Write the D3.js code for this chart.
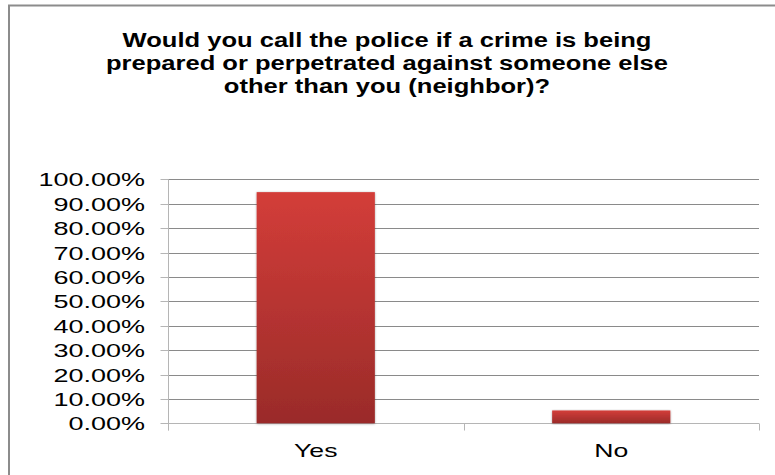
<!DOCTYPE html>
<html>
<head>
<meta charset="utf-8">
<script src="https://cdn.jsdelivr.net/npm/d3@7"></script>
<style>
  html, body { margin: 0; padding: 0; background: #fff; }
  svg { display: block; }
  text { font-family: "Liberation Sans", Arial, sans-serif; fill: #000; }
</style>
</head>
<body>
<svg id="chart" width="775" height="475"></svg>
<script>
// Survey answers and their shares (percent)
const categories = ["Yes", "No"];
const shares = [94.74, 5.26];
const yTicks = [0, 10, 20, 30, 40, 50, 60, 70, 80, 90, 100];
const titleLines = [
  "Would you call the police if a crime is being",
  "prepared or perpetrated against someone else",
  "other than you (neighbor)?"
];

const svg = d3.select("#chart");
const W = 775, H = 475;
const plot = { left: 168, right: 759, top: 179.3, bottom: 423.3 };
// wide lettering used throughout the chart
const titleStretch = 1.31, tickStretch = 1.42, catStretch = 1.4;

// chart frame (top and left edges visible in the window)
svg.append("path")
  .attr("d", `M9,${H + 5}V5.5H${W + 5}`)
  .attr("fill", "none")
  .attr("stroke", "#8c8c8c")
  .attr("stroke-width", 2);

// bar gradient
const defs = svg.append("defs");
const grad = defs.append("linearGradient")
  .attr("id", "barFill").attr("x1", 0).attr("y1", 0).attr("x2", 0).attr("y2", 1);
grad.append("stop").attr("offset", "0%").attr("stop-color", "#d33d39");
grad.append("stop").attr("offset", "100%").attr("stop-color", "#9a2b29");
const shadow = defs.append("filter").attr("id", "barShadow")
  .attr("x", "-10%").attr("y", "-10%").attr("width", "120%").attr("height", "120%");
shadow.append("feDropShadow").attr("dx", 0).attr("dy", 0.5).attr("stdDeviation", 1.2)
  .attr("flood-color", "#000").attr("flood-opacity", 0.35);

// title
svg.append("g").selectAll("g").data(titleLines).join("g")
  .attr("transform", (d, i) => `translate(387,${47 + i * 23}) scale(${titleStretch},1)`)
  .append("text")
  .attr("text-anchor", "middle")
  .attr("font-size", "19.5px")
  .attr("font-weight", "bold")
  .text(d => d);

const x = d3.scaleBand().domain(categories).range([plot.left, plot.right]).paddingInner(0.6).paddingOuter(0.3);
const y = d3.scaleLinear().domain([0, 100]).range([plot.bottom, plot.top]);

// horizontal gridlines
svg.append("g").selectAll("line").data(yTicks.filter(t => t > 0)).join("line")
  .attr("x1", plot.left).attr("x2", plot.right)
  .attr("y1", d => Math.round(y(d)) + 0.5).attr("y2", d => Math.round(y(d)) + 0.5)
  .attr("stroke", "#8a8a8a").attr("stroke-width", 1);

// y axis
const yAxis = svg.append("g")
  .attr("transform", `translate(${plot.left + 0.5},0)`)
  .call(d3.axisLeft(y).tickValues(yTicks).tickSize(8).tickPadding(10)
    .tickFormat(d => d3.format(".2f")(d) + "%"));
yAxis.select(".domain").attr("stroke", "#b5b5b5").attr("d", `M0,${plot.top}V${plot.bottom + 7}`);
yAxis.selectAll(".tick line").attr("stroke", "#b5b5b5");
yAxis.selectAll(".tick").attr("transform", d => `translate(0,${Math.round(y(d)) + 0.5})`);
yAxis.selectAll("text")
  .attr("x", -23.5 / tickStretch)
  .attr("transform", `scale(${tickStretch},1)`)
  .attr("font-size", "19px")
  .attr("font-family", "Liberation Sans, Arial, sans-serif")
  .attr("fill", "#000")
  .attr("dy", "0.36em");

// x axis
const xAxis = svg.append("g")
  .attr("transform", `translate(0,${Math.round(plot.bottom) + 0.5})`);
xAxis.append("line").attr("x1", plot.left).attr("x2", plot.right)
  .attr("stroke", "#b5b5b5");
const bounds = [plot.left, (plot.left + plot.right) / 2, plot.right];
xAxis.selectAll(".sep").data(bounds).join("line").attr("class", "sep")
  .attr("x1", d => Math.round(d) + 0.5).attr("x2", d => Math.round(d) + 0.5)
  .attr("y1", 0).attr("y2", 7).attr("stroke", "#b5b5b5");
xAxis.selectAll("g.lbl").data(categories).join("g").attr("class", "lbl")
  .attr("transform", d => `translate(${x(d) + x.bandwidth() / 2},33) scale(${catStretch},1)`)
  .append("text")
  .attr("text-anchor", "middle")
  .attr("font-size", "19px")
  .text(d => d);

// bars
svg.append("g").selectAll("rect").data(categories).join("rect")
  .attr("x", d => x(d))
  .attr("width", x.bandwidth())
  .attr("y", (d, i) => y(shares[i]))
  .attr("height", (d, i) => y(0) - y(shares[i]))
  .attr("fill", "url(#barFill)")
  .attr("filter", "url(#barShadow)");
</script>
</body>
</html>
